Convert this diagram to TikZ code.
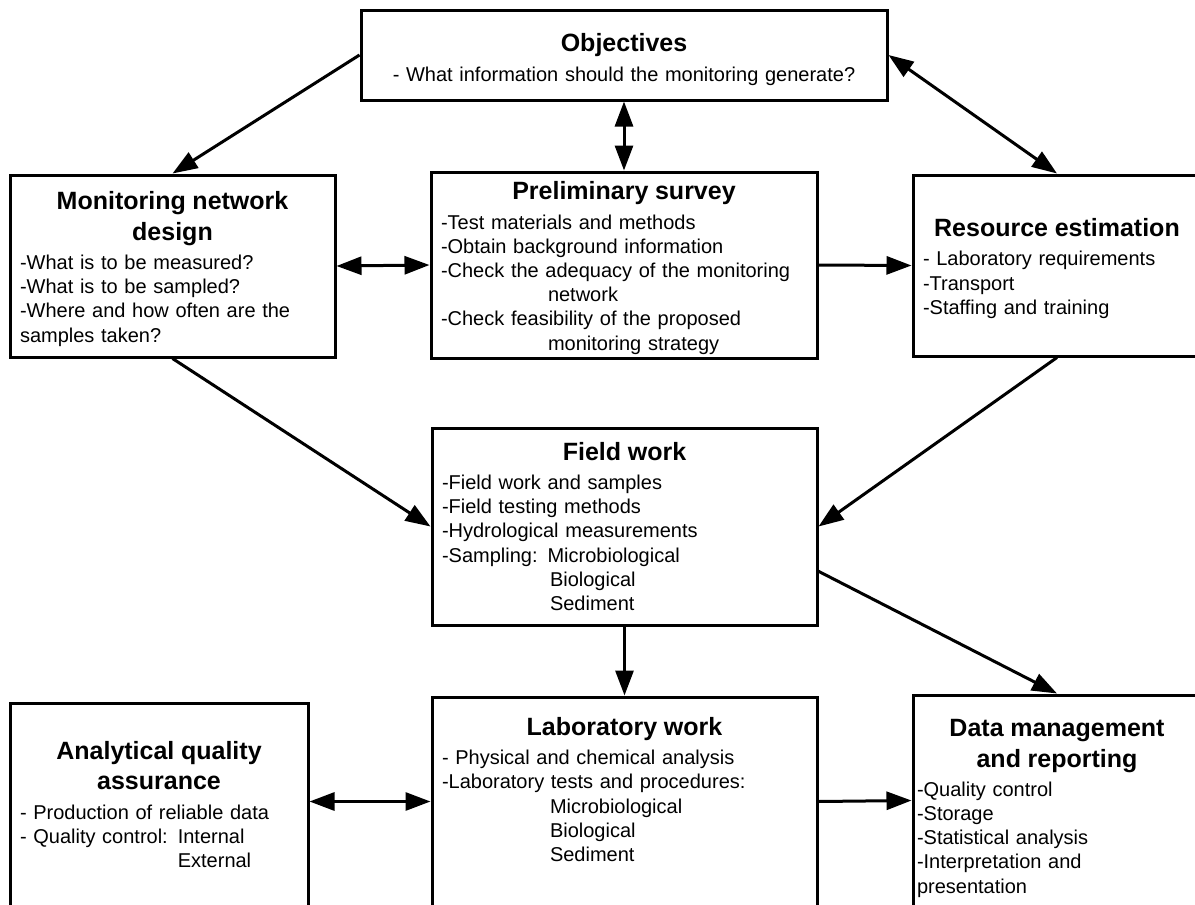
\documentclass[tikz,border=0pt]{standalone}
\usepackage{fontspec}
\setmainfont{Liberation Sans}
\usetikzlibrary{arrows.meta}
\setlength{\parindent}{0pt}
\newcommand{\bodysize}{\fontsize{20pt}{24.2pt}\selectfont}
\newcommand{\heading}[2][0pt]{{\centering\fontsize{25pt}{30.5pt}\selectfont\bfseries\rule{0pt}{#1}#2\par}\vspace{5pt}}
\tikzset{
    panel/.style={draw,line width=3pt,rectangle,inner xsep=10pt,inner ysep=0pt,align=left,font=\bodysize},
    arr/.style={line width=3pt,-{Triangle[length=25pt,width=18pt]}},
    darr/.style={line width=3pt,{Triangle[length=25pt,width=18pt]}-{Triangle[length=25pt,width=18pt]}}
}

\begin{document}
\begin{tikzpicture}[x=1pt,y=-1pt]
    \useasboundingbox (0,0) rectangle (1195,905);
    \clip (0,0) rectangle (1195,905);
    \node [panel,align=center,text width=506pt,minimum height=90pt] (obj) at (624,55)
        {\heading[27pt]{Objectives}- What information should the monitoring generate?};
    \node [panel,text width=305pt,minimum height=182pt] (mon) at (172.5,266)
        {\heading[24pt]{Monitoring network\\design}-What is to be measured?\\-What is to be sampled?\\-Where and how often are the\\samples taken?};
    \node [panel,text width=366pt,minimum height=186pt] (pre) at (624,265)
        {\heading[24pt]{Preliminary survey}-Test materials and methods\\-Obtain background information\\-Check the adequacy of the monitoring\\\hspace*{107pt}network\\-Check feasibility of the proposed\\\hspace*{107pt}monitoring strategy};
    \node [panel,text width=268pt,minimum height=181pt] (res) at (1057,265.5)
        {\heading[24pt]{Resource estimation}- Laboratory requirements\\-Transport\\-Staffing and training};
    \node [panel,text width=365pt,minimum height=197pt] (fld) at (624.5,526.5)
        {\heading{Field work}-Field work and samples\\-Field testing methods\\-Hydrological measurements\\-Sampling: Microbiological\\\hspace*{108pt}Biological\\\hspace*{108pt}Sediment};
    \node [panel,text width=365pt,minimum height=209pt] (lab) at (624.5,801.5)
        {\heading{Laboratory work}- Physical and chemical analysis\\-Laboratory tests and procedures:\\\hspace*{108pt}Microbiological\\\hspace*{108pt}Biological\\\hspace*{108pt}Sediment\\\mbox{}};
    \node [panel,text width=278pt,minimum height=203pt] (aqa) at (159,804.5)
        {\heading[22pt]{Analytical quality\\assurance}- Production of reliable data\\- Quality control: Internal\\\phantom{- Quality control: }External};
    \node [panel,inner xsep=4pt,text width=280pt,minimum height=211pt] (dat) at (1057,800.5)
        {\heading[33pt]{Data management\\and reporting}-Quality control\\-Storage\\-Statistical analysis\\-Interpretation and\\presentation};
    \foreach \a/\b in {obj.west/mon.north,pre.east/res.west,mon.south/fld.west,res.south/fld.east,fld.-13/dat.north,fld.south/lab.north,lab.east/dat.west} {
        \draw [arr] (\a) -- (\b);
    }
    \draw [darr] (obj.south) -- (pre.north);
    \draw [darr] (obj.east) -- (res.north);
    \draw [darr] (mon.east) -- (pre.west);
    \draw [darr] (lab.west) -- (lab.west -| aqa.east);
\end{tikzpicture}
\end{document}
